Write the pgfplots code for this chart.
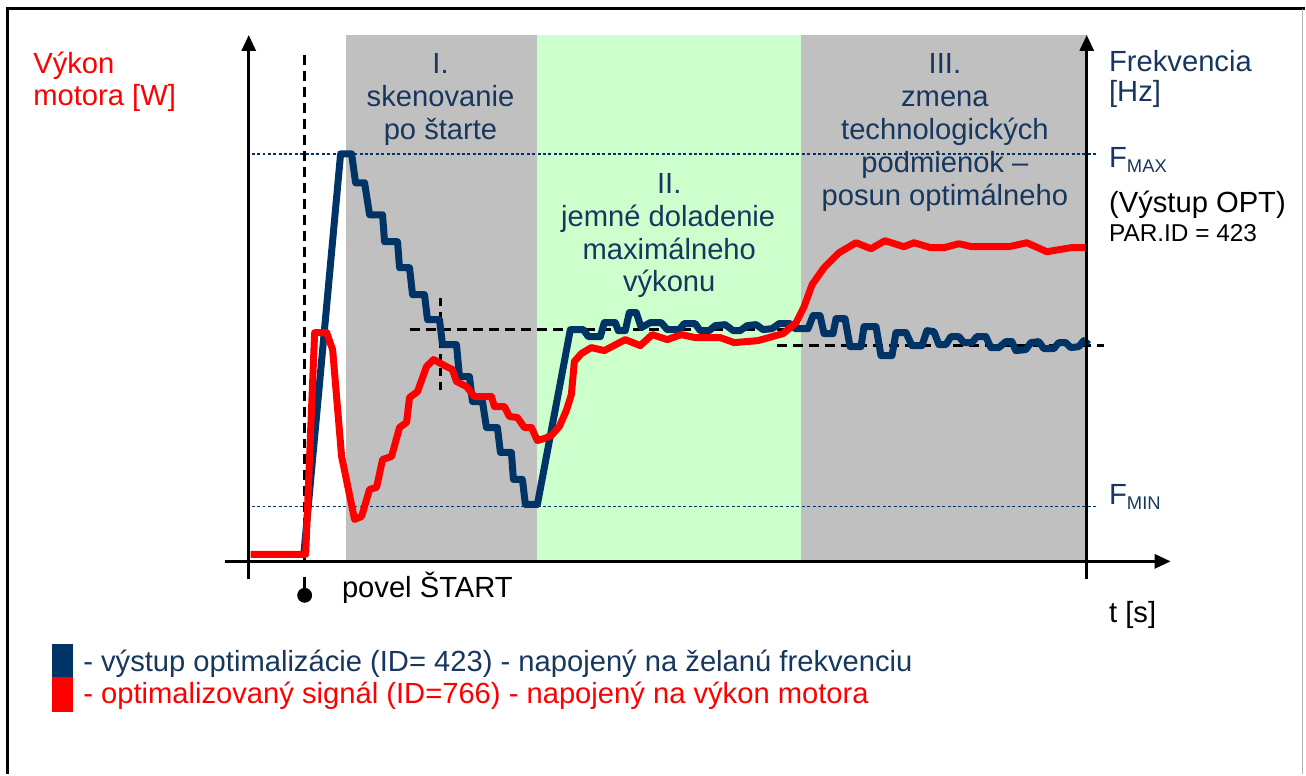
\documentclass[border=0pt]{standalone}
\usepackage{pgfplots}
\pgfplotsset{compat=1.18}
\usetikzlibrary{arrows.meta}
\usepackage{fontspec}
\setmainfont{Liberation Sans}
\definecolor{lineblue}{RGB}{0,51,102}
\definecolor{txtblue}{RGB}{23,55,94}
\definecolor{grayfill}{RGB}{192,192,192}
\definecolor{greenfill}{RGB}{204,255,204}
\newcommand{\bigf}{\fontsize{14.6}{16.5}\selectfont}
\begin{document}
\begin{tikzpicture}
\begin{axis}[width=653pt,height=387.5pt,scale only axis,
  xmin=0,xmax=1306,ymin=0,ymax=775,y dir=reverse,
  hide axis,clip=false]
% invisible bounding box
\path (axis cs:0,0) rectangle (axis cs:1306,775);
% background regions
\addplot[fill=grayfill,draw=none] coordinates {(346,35) (538,35) (538,562) (346,562)};
\addplot[fill=greenfill,draw=none] coordinates {(538,35) (802,35) (802,562) (538,562)};
\addplot[fill=grayfill,draw=none] coordinates {(802,35) (1088,35) (1088,562) (802,562)};
% F lines
\addplot[lineblue,line width=0.7pt,dash pattern=on 1.5pt off 1.2pt] coordinates {(252,154) (1098,154)};
\addplot[lineblue,line width=0.7pt,dash pattern=on 1.5pt off 1.2pt] coordinates {(252,507) (1098,507)};
% dashed black helpers
\addplot[black,line width=1.5pt,dash pattern=on 5pt off 3pt] coordinates {(305,55) (305,562)};
\addplot[black,line width=1.5pt] coordinates {(305,578) (305,596)};
\addplot[black,only marks,mark=*,mark size=3.5pt] coordinates {(305,596)};
\addplot[black,line width=1.5pt,dash pattern=on 5pt off 3pt] coordinates {(410,330) (792,330)};
\addplot[black,line width=1.5pt,dash pattern=on 5pt off 3pt] coordinates {(778,346) (1105,346)};
\addplot[black,line width=1.2pt,dash pattern=on 4pt off 3pt] coordinates {(441,298) (441,395)};
% blue series
\addplot[lineblue,line width=3.5pt,line join=round] coordinates {
(304,557) (341,154) (352,154) (356,183) (365,183) (370,215) (383,215) (385,242) (398,242)
(400,268) (410,268) (413,295) (425,295) (428,320) (440,320) (443,345) (457,345) (460,377)
(470,377) (473,402) (483,402) (487,428) (498,428) (501,453) (512,453) (514,480) (523,480)
(526,505) (538,505) (571,330) (584,330) (589,337) (601,337) (605,323) (616,323) (619,331)
(626,331) (630,313) (637,313) (642,328) (651,323) (662,323) (668,330) (680,330) (685,324)
(696,324) (701,331) (710,331) (716,326) (726,325) (734,331) (741,331) (748,326) (757,325)
(764,330) (773,329) (780,324) (791,324) (796,329) (809,329) (814,316) (821,316) (825,334)
(834,334) (837,319) (846,319) (851,347) (862,347) (865,327) (877,327) (882,356) (893,356)
(897,333) (907,333) (913,346) (923,346) (928,331) (935,332) (940,345) (947,345) (952,337)
(960,337) (965,343) (973,343) (978,337) (987,337) (992,348) (1000,348) (1007,342) (1013,342)
(1017,351) (1027,350) (1032,343) (1040,342) (1045,349) (1055,349) (1060,343) (1067,343)
(1072,348) (1080,347) (1085,341) (1090,345)};
% red series
\addplot[red,line width=3.5pt,line join=round] coordinates {
(251,555) (306,555) (315,333) (327,333) (333,350) (342,457) (355,520) (362,517) (370,490)
(377,488) (383,460) (392,457) (400,428) (407,423) (410,398) (418,392) (427,367) (434,360)
(447,367) (453,370) (457,382) (467,387) (475,397) (492,397) (495,407) (505,407) (510,417)
(518,418) (525,428) (532,428) (538,441) (545,439) (552,436) (560,427) (567,411) (572,395)
(575,362) (582,354) (592,348) (605,351) (626,340) (641,346) (653,335) (668,340) (682,335)
(696,338) (721,338) (735,343) (759,341) (773,337) (784,334) (797,323) (805,307) (813,285)
(825,268) (840,253) (857,243) (872,249) (886,241) (905,247) (915,243) (932,248) (945,248)
(960,244) (973,247) (1010,247) (1028,243) (1048,252) (1072,248) (1088,248)};
% axes
\draw[black,line width=1.5pt,-{Triangle[length=8pt,width=7pt]}] (axis cs:249,580) -- (axis cs:249,35);
\draw[black,line width=1.5pt,-{Triangle[length=8pt,width=7pt]}] (axis cs:1088,580) -- (axis cs:1088,35);
\draw[black,line width=1.5pt,-{Triangle[length=8pt,width=7pt]}] (axis cs:225,562) -- (axis cs:1172,562);
% frame
\draw[black,line width=1.5pt] (axis cs:8,775) -- (axis cs:8,9) -- (axis cs:1306,9);
\draw[gray!60,line width=0.6pt] (axis cs:1304,9) -- (axis cs:1304,775);
% left label
\node[anchor=base west,red,inner sep=0pt,font=\bigf] at (axis cs:33,74) {Výkon};
\node[anchor=base west,red,inner sep=0pt,font=\bigf] at (axis cs:33,106) {motora [W]};
% right labels
\node[anchor=base west,txtblue,inner sep=0pt,font=\bigf] at (axis cs:1110,72) {Frekvencia};
\node[anchor=base west,txtblue,inner sep=0pt,font=\bigf] at (axis cs:1110,102) {[Hz]};
\node[anchor=base west,txtblue,inner sep=0pt,font=\bigf] at (axis cs:1110,168) {F\raisebox{-2.5pt}{\fontsize{9.2}{10}\selectfont MAX}};
\node[anchor=base west,black,inner sep=0pt,font=\bigf] at (axis cs:1110,213) {(Výstup OPT)};
\node[anchor=base west,black,inner sep=0pt,font=\fontsize{12.2}{14}\selectfont] at (axis cs:1110,242) {PAR.ID = 423};
\node[anchor=base west,txtblue,inner sep=0pt,font=\bigf] at (axis cs:1110,505) {F\raisebox{-2.5pt}{\fontsize{9.2}{10}\selectfont MIN}};
% region titles
\node[anchor=base,txtblue,inner sep=0pt,font=\bigf] at (axis cs:441,74) {I.};
\node[anchor=base,txtblue,inner sep=0pt,font=\bigf] at (axis cs:441,107) {skenovanie};
\node[anchor=base,txtblue,inner sep=0pt,font=\bigf] at (axis cs:441,140) {po štarte};
\node[anchor=base,txtblue,inner sep=0pt,font=\bigf] at (axis cs:670,194) {II.};
\node[anchor=base,txtblue,inner sep=0pt,font=\bigf] at (axis cs:669,227) {jemné doladenie};
\node[anchor=base,txtblue,inner sep=0pt,font=\bigf] at (axis cs:670,260) {maximálneho};
\node[anchor=base,txtblue,inner sep=0pt,font=\bigf] at (axis cs:670,292) {výkonu};
\node[anchor=base,txtblue,inner sep=0pt,font=\bigf] at (axis cs:946,74) {III.};
\node[anchor=base,txtblue,inner sep=0pt,font=\bigf] at (axis cs:946,107) {zmena};
\node[anchor=base,txtblue,inner sep=0pt,font=\bigf] at (axis cs:946,140) {technologických};
\node[anchor=base,txtblue,inner sep=0pt,font=\bigf] at (axis cs:946,173) {podmienok –};
\node[anchor=base,txtblue,inner sep=0pt,font=\bigf] at (axis cs:946,206) {posun optimálneho};
% bottom labels
\node[anchor=base west,black,inner sep=0pt,font=\bigf] at (axis cs:342,598) {povel ŠTART};
\node[anchor=base west,black,inner sep=0pt,font=\bigf] at (axis cs:1110,623) {t [s]};
% legend
\addplot[fill=lineblue,draw=none] coordinates {(52,645) (73,645) (73,678) (52,678)};
\addplot[fill=red,draw=none] coordinates {(52,678) (73,678) (73,713) (52,713)};
\node[anchor=base west,txtblue,inner sep=0pt,font=\bigf] at (axis cs:83,672) {- výstup optimalizácie (ID= 423) - napojený na želanú frekvenciu};
\node[anchor=base west,red,inner sep=0pt,font=\bigf] at (axis cs:83,704) {- optimalizovaný signál (ID=766) - napojený na výkon motora};
\end{axis}
\end{tikzpicture}
\end{document}
